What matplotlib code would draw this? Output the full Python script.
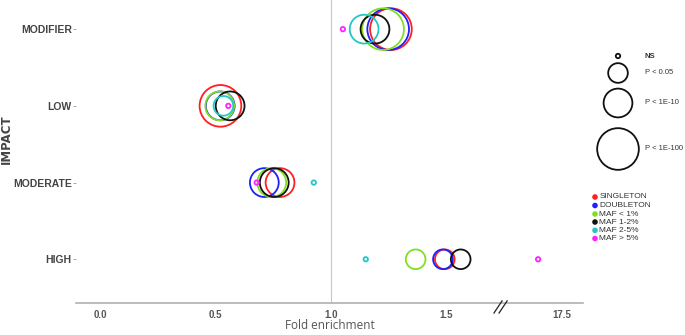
import matplotlib.pyplot as plt
import matplotlib.transforms as mtransforms
from matplotlib import font_manager

names = {f.name for f in font_manager.fontManager.ttflist}
narrow = 'Liberation Sans Narrow' if 'Liberation Sans Narrow' in names else 'Liberation Sans'

# Catégories d'impact (de haut en bas)
impacts = ['MODIFIER', 'LOW', 'MODERATE', 'HIGH']
impact_pos = [3, 2, 1, 0]

# Groupes de fréquence
groupes = ['SINGLETON', 'DOUBLETON', 'MAF < 1%', 'MAF 1-2%', 'MAF 2-5%', 'MAF > 5%']
couleurs = ['#ff1f1f', '#1f1fff', '#80e020', '#111111', '#22c8c8', '#ff22ff']

# Fold enrichment (position sur l'axe ; 2.0 = 17.5 après la coupure)
fold_singleton = [1.259, 0.521, 0.779, 1.492]
fold_doubleton = [1.247, 0.520, 0.711, 1.484]
fold_maf1 = [1.225, 0.518, 0.743, 1.366]
fold_maf12 = [1.190, 0.563, 0.754, 1.561]
fold_maf25 = [1.143, 0.534, 0.925, 1.150]
fold_maf5 = [1.051, 0.555, 0.678, 1.896]

# Classe de significativité : 0=NS, 1=P<0.05, 2=P<1E-10, 3=P<1E-100
sig_singleton = [3, 3, 2, 1]
sig_doubleton = [3, 2, 2, 1]
sig_maf1 = [3, 2, 2, 1]
sig_maf12 = [2, 2, 2, 1]
sig_maf25 = [2, 1, 0, 0]
sig_maf5 = [0, 0, 0, 0]

sig_labels = ['NS', 'P < 0.05', 'P < 1E-10', 'P < 1E-100']
sig_taille = [10, 200, 430, 900]

xticks = [0.0, 0.5, 1.0, 1.5, 2.0]
xticklabels = ['0.0', '0.5', '1.0', '1.5', '17.5']

folds = [fold_singleton, fold_doubleton, fold_maf1, fold_maf12, fold_maf25, fold_maf5]
sigs = [sig_singleton, sig_doubleton, sig_maf1, sig_maf12, sig_maf25, sig_maf5]

fig = plt.figure(figsize=(6.85, 3.35), dpi=100)
ax = fig.add_axes([0.111, 0.0955, 0.74, 0.9045])

ax.axvline(1.0, color='#c8c8c8', linewidth=0.8, zorder=0)

for g, (f, s, c) in enumerate(zip(folds, sigs, couleurs)):
    ax.scatter(f, impact_pos, s=[sig_taille[k] for k in s], facecolors='none',
               edgecolors=c, linewidths=1.3, zorder=2 + g)

ax.set_xlim(-0.104, 2.09)
ax.set_ylim(-0.57, 3.38)
ax.set_xticks(xticks)
ax.set_xticklabels(xticklabels)
ax.set_yticks(impact_pos)
ax.set_yticklabels(impacts)

for sp in ['top', 'right', 'left']:
    ax.spines[sp].set_visible(False)
ax.spines['bottom'].set_color('#b0b0b0')
ax.spines['bottom'].set_linewidth(1.2)

ax.tick_params(axis='x', length=0, pad=5, labelsize=7, labelcolor='#555555')
ax.tick_params(axis='y', length=2, width=0.6, color='#999999', pad=1,
               labelsize=7.5, labelcolor='#444444')
for lab in ax.get_xticklabels() + ax.get_yticklabels():
    lab.set_fontweight('bold')
    lab.set_family(narrow)

ax.set_xlabel('Fold enrichment', fontsize=8.5, color='#555555', family='Open Sans')
ax.xaxis.set_label_coords(0.5, -0.052)
ax.set_ylabel('IMPACT', fontsize=8.5, color='#444444', fontweight='bold')
ax.yaxis.set_label_coords(-0.125, 0.54)

# Coupure de l'axe
trans = mtransforms.blended_transform_factory(ax.transData, ax.transAxes)
for dx in [0.0, 0.022]:
    ax.plot([1.705 + dx, 1.74 + dx], [-0.033, 0.007], color='#222222', linewidth=0.9,
            transform=trans, clip_on=False, zorder=10)

# Légendes dessinées à la main (coordonnées en pixels de la figure)
lax = fig.add_axes([0, 0, 1, 1])
lax.set_xlim(0, 685)
lax.set_ylim(335, 0)
lax.axis('off')

sig_y = [56, 73, 103, 149]
lax.scatter([618] * len(sig_taille), sig_y, s=sig_taille, facecolors='none',
            edgecolors='#111111', linewidths=1.3)
for lab, y in zip(sig_labels, sig_y):
    lax.text(645, y, lab, fontsize=5.5, color='#333333', va='center', family=narrow,
             fontweight='bold' if lab == 'NS' else 'normal')

grp_y = [197, 205.5, 214, 222, 230.3, 238.5]
lax.scatter([595] * len(couleurs), grp_y, s=9, c=couleurs)
for lab, y in zip(groupes, grp_y):
    lax.text(599.5, y, lab, fontsize=6, color='#333333', va='center', family=narrow)

fig.savefig('out.png', dpi=100)
